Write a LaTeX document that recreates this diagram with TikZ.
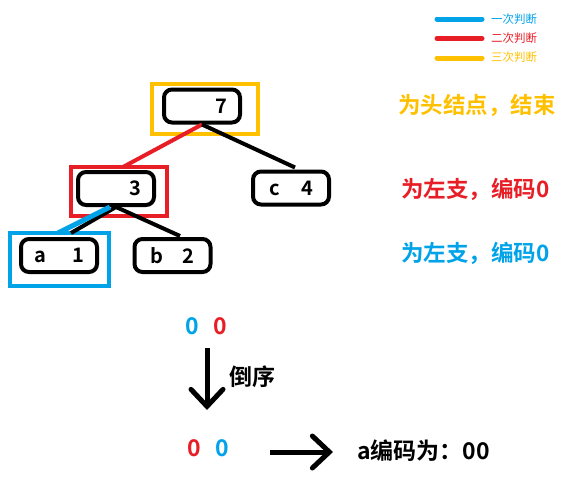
\documentclass[tikz,border=0pt]{standalone}
\usepackage{fontspec}
\setmainfont{Noto Sans CJK SC}[BoldFont={Noto Sans CJK SC Bold}]
\usetikzlibrary{arrows.meta}
\definecolor{cblue}{RGB}{0,162,232}
\definecolor{cred}{RGB}{232,30,38}
\definecolor{cyel}{RGB}{255,192,0}
\tikzset{
  tnode/.style={draw=black, line width=4pt, rounded corners=8pt, fill=white,
    minimum width=76pt, minimum height=33pt, inner sep=0pt,
    font=\fontsize{20}{20}\selectfont\bfseries},
  hl/.style={draw, line width=4pt, inner sep=0pt},
  edge/.style={line width=4pt},
  lbl/.style={anchor=west, inner sep=0pt, font=\fontsize{22.5}{23}\selectfont\bfseries},
  leg/.style={line width=5pt, line cap=round},
  legtxt/.style={anchor=west, inner sep=0pt, font=\fontsize{11.5}{12}\selectfont},
  big/.style={inner sep=0pt, font=\fontsize{23}{24}\selectfont\bfseries},
  barrow/.style={line width=5pt, -{Straight Barb[length=17pt,width=32pt,line cap=round]}}
}
\begin{document}
\begin{tikzpicture}[x=1pt,y=-1pt]
\useasboundingbox (0,0) rectangle (577,482);
% legend
\draw[leg, cblue] (437,19) -- (482,19);
\draw[leg, cred] (437,38.5) -- (482,38.5);
\draw[leg, cyel] (437,58) -- (482,58);
\node[legtxt, text=cblue] (l1) at (491,19) {一次判断};
\node[legtxt, text=cred] (l2) at (491,38.5) {二次判断};
\node[legtxt, text=cyel] (l3) at (491,57) {三次判断};
% highlight boxes
\node[hl, draw=cyel, minimum width=106pt, minimum height=50pt] (h7) at (205,109) {};
\node[hl, draw=cred, minimum width=96pt, minimum height=49pt] (h3) at (119,191.5) {};
\node[hl, draw=cblue, minimum width=99pt, minimum height=53pt] (ha) at (59.5,259.5) {};
% tree nodes
\node[tnode] (n7) at (202,106) {\makebox[50pt][r]{7}};
\node[tnode] (n3) at (116,188.5) {\makebox[50pt][r]{3}};
\node[tnode] (nc) at (291,188) {\makebox[44pt]{c\hfill 4}};
\node[tnode] (na) at (59,255.5) {\makebox[50pt]{a\hfill 1}};
\node[tnode] (nb) at (172.5,255.5) {\makebox[44pt]{b\hfill 2}};
% edges
\draw[edge, cred] (n7.south) -- ([xshift=7pt,yshift=3pt]n3.north);
\draw[edge] (n7.south) -- ([xshift=4pt,yshift=2pt]nc.north);
\draw[edge] (n3.south) -- ([xshift=12pt,yshift=4pt]na.north);
\draw[edge] (n3.south) -- ([xshift=7.5pt,yshift=1pt]nb.north);
\draw[line width=5pt, cblue] ([xshift=-6pt]n3.south) -- ([xshift=-1pt,yshift=4pt]na.north);
% right labels
\node[lbl, text=cyel] (r1) at (398,105) {为头结点，结束};
\node[lbl, text=cred] (r2) at (401,189) {为左支，编码0};
\node[lbl, text=cblue] (r3) at (401,253) {为左支，编码0};
% bottom
\node[big] (top) at (206,326) {\textcolor{cblue}{0}\hspace{14pt}\textcolor{cred}{0}};
\node[big] (bot) at (208,448) {\textcolor{cred}{0}\hspace{14pt}\textcolor{cblue}{0}};
\coordinate (dstart) at (207,348);
\coordinate (dend) at (207,410);
\draw[barrow] (dstart) -- (dend);
\node[anchor=west, inner sep=0pt, font=\fontsize{23}{24}\selectfont\bfseries] (rev) at (229,377) {倒序};
\node[big, anchor=west] (res) at (357,451) {a编码为：00};
\coordinate (hstart) at (270,452);
\coordinate (hend) at (333,452);
\draw[barrow] (hstart) -- (hend);
\end{tikzpicture}
\end{document}
